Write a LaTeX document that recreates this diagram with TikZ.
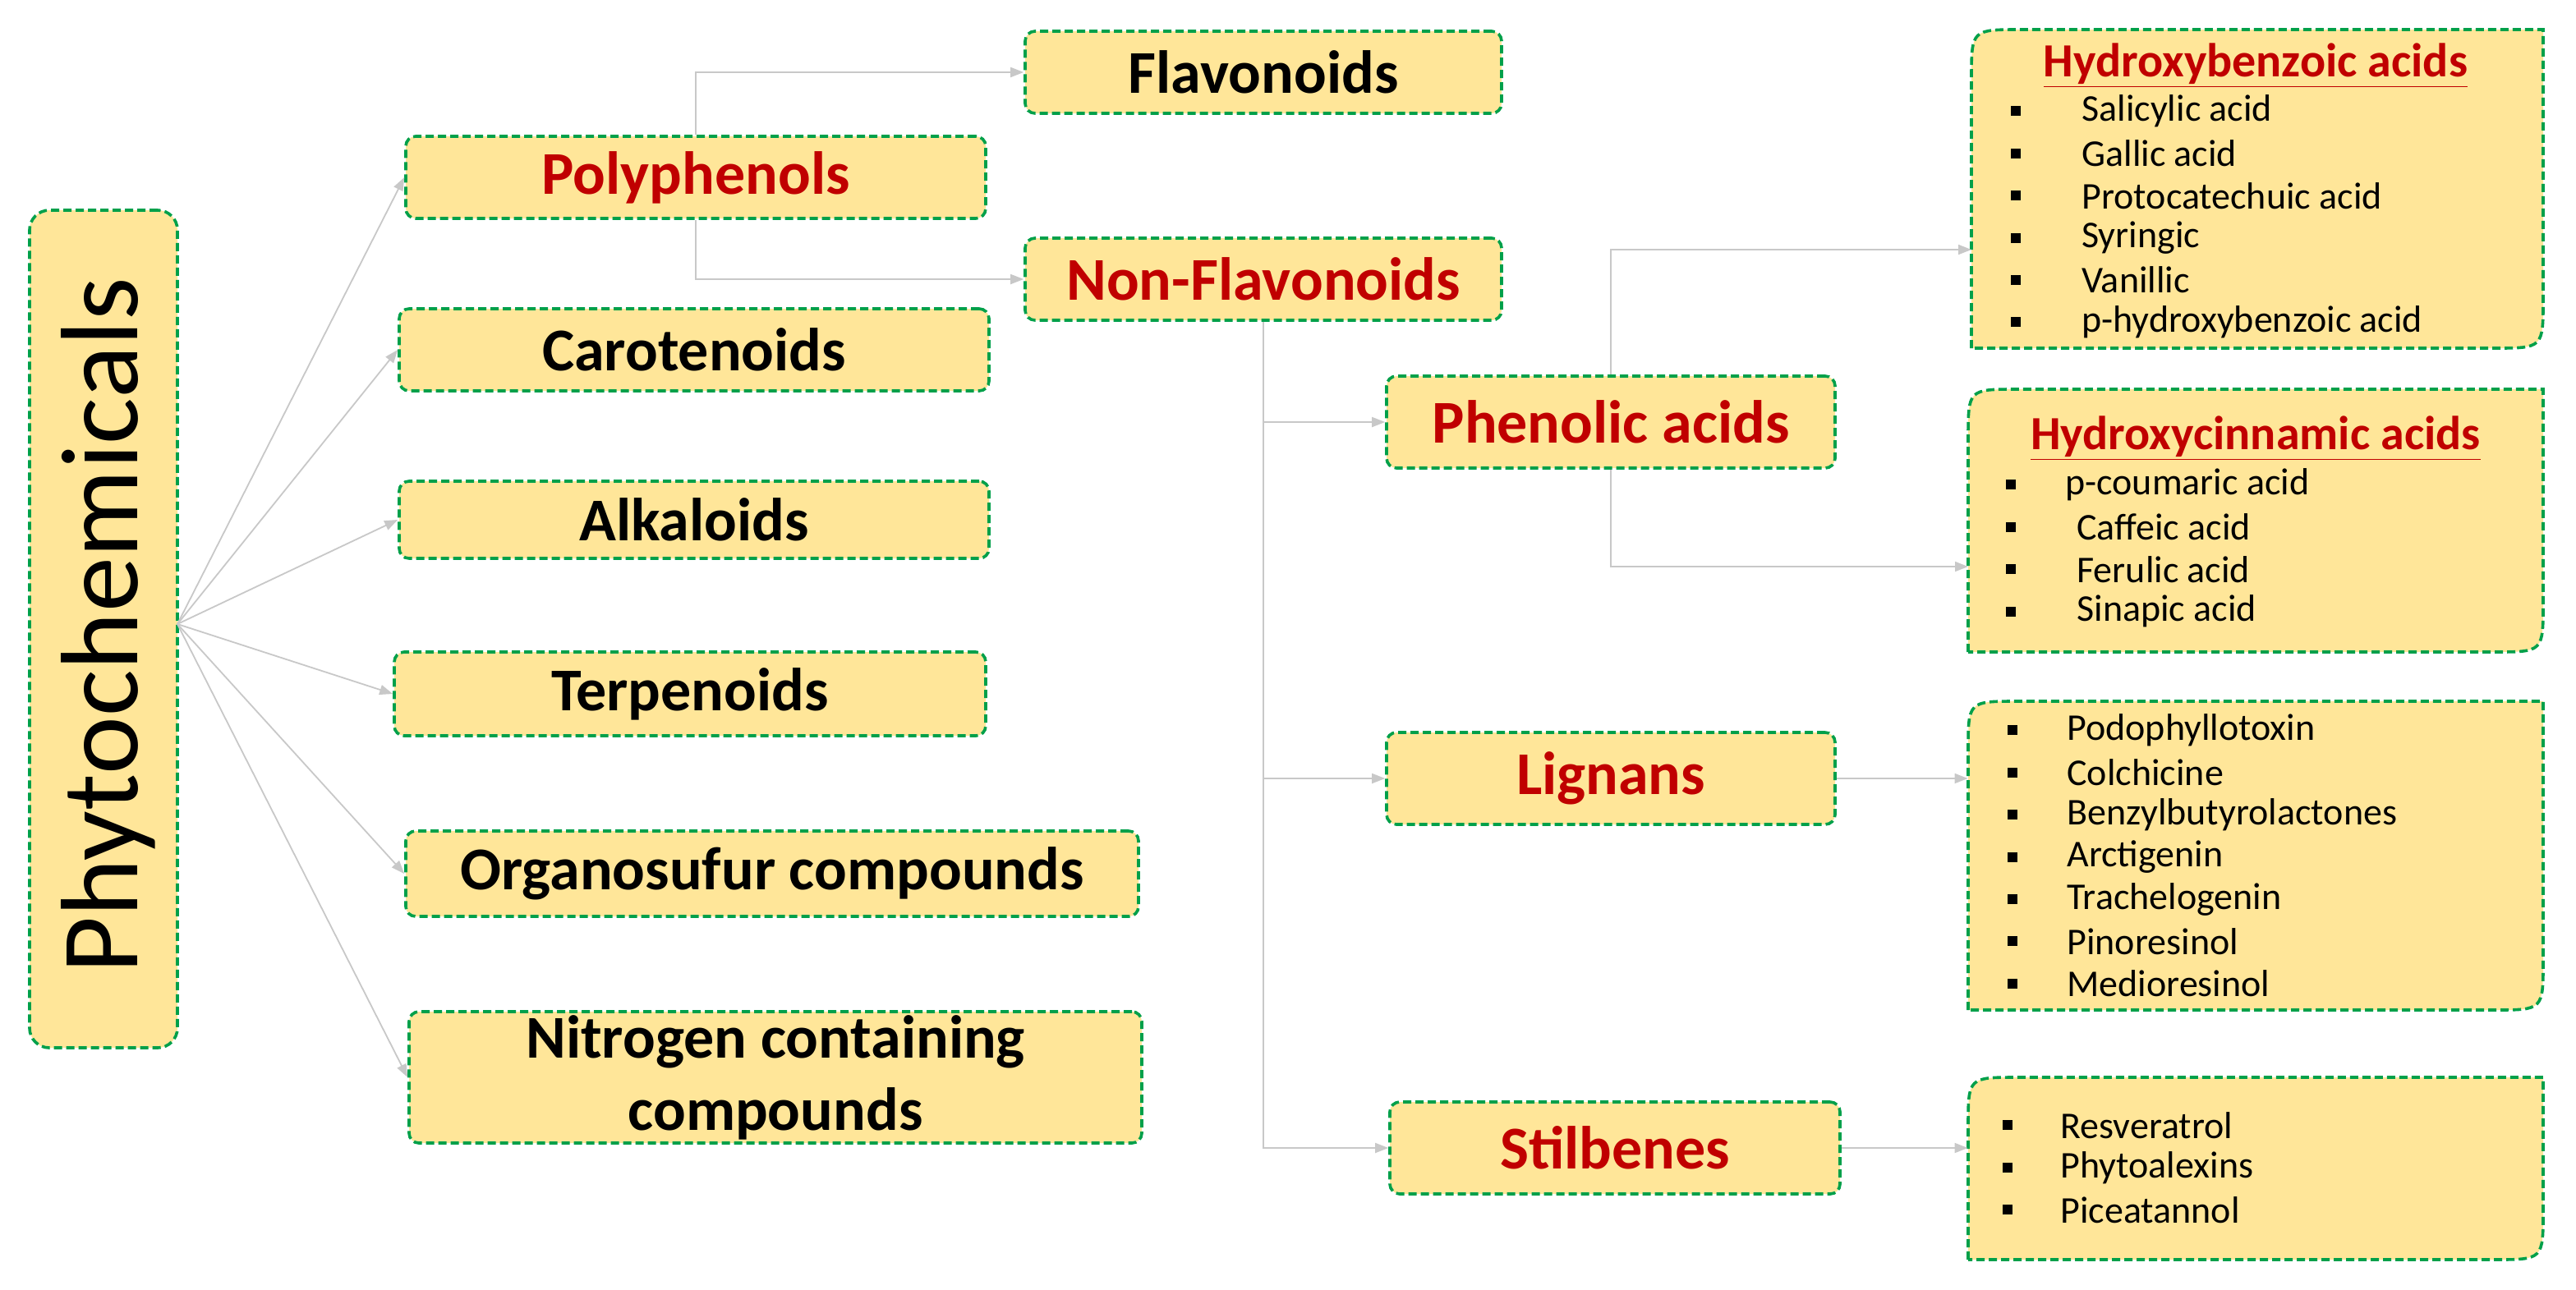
\documentclass[tikz,border=0pt]{standalone}
\usepackage{fontspec}
\setmainfont{Carlito}
\usetikzlibrary{arrows.meta,calc}
\definecolor{boxfill}{HTML}{FFE699}
\definecolor{boxline}{HTML}{00A04A}
\definecolor{redtxt}{HTML}{C00000}
\definecolor{conn}{HTML}{C8C8C8}
\tikzset{
  box/.style={draw=boxline,dash pattern=on 5pt off 2.5pt,line width=1.8pt,fill=boxfill,rounded corners=6pt,inner sep=0pt,align=center},
  bk/.style={font=\fontsize{37}{40}\selectfont\bfseries},
  rd/.style={font=\fontsize{37}{40}\selectfont\bfseries,text=redtxt},
  conn/.style={draw=conn,line width=0.9pt,-{Triangle[length=8pt,width=6pt]}},
  lbox/.style={draw=boxline,dash pattern=on 5pt off 2.5pt,line width=1.8pt,fill=boxfill},
  item/.style={anchor=west,font=\fontsize{23}{25}\selectfont,inner sep=0pt},
  bul/.style={fill=black,minimum size=6pt,inner sep=0pt},
  head/.style={font=\fontsize{29}{30}\selectfont\bfseries,text=redtxt,inner sep=0pt}
}
\newcommand{\listbox}[5]{% name x1 y1 x2 y2
  \node[minimum width={(#4-#2)*1pt},minimum height={(#5-#3)*1pt},inner sep=0pt] (#1) at ({(#2+#4)/2},{(#3+#5)/2}) {};
  \draw[lbox] (#2,#5) -- (#2,#3+30) .. controls (#2,#3) .. (#2+30,#3) -- (#4,#3) -- (#4,#5-30) .. controls (#4,#5) .. (#4-30,#5) -- cycle;
}
\begin{document}
\begin{tikzpicture}[x=1pt,y=-1pt]
\useasboundingbox (0,0) rectangle (1568,785);
% main
\node[box,minimum width=90pt,minimum height=510pt,rounded corners=12pt] (phy) at (63,383) {};
\node[rotate=90,font=\fontsize{67}{70}\selectfont] (phyt) at (66,381) {Phytochemicals};
\node[box,rd,minimum width=353pt,minimum height=50pt] (poly) at (423.5,108) {Polyphenols};
\node[box,bk,minimum width=290pt,minimum height=50pt] (flav) at (769,44) {Flavonoids};
\node[box,rd,minimum width=290pt,minimum height=50pt] (nonf) at (769,170) {Non-Flavonoids};
\node[box,bk,minimum width=359pt,minimum height=50pt] (caro) at (422.5,213) {Carotenoids};
\node[box,bk,minimum width=359pt,minimum height=47pt] (alka) at (422.5,316.5) {Alkaloids};
\node[box,bk,minimum width=360pt,minimum height=51pt] (terp) at (420,422.5) {Terpenoids};
\node[box,bk,minimum width=446pt,minimum height=52pt] (orga) at (470,532) {Organosufur compounds};
\node[box,bk,minimum width=446pt,minimum height=80pt,font=\fontsize{37}{44}\selectfont\bfseries] (nitr) at (472,656) {Nitrogen containing\\compounds};
\node[box,rd,minimum width=273pt,minimum height=56pt] (phen) at (980.5,257) {Phenolic acids};
\node[box,rd,minimum width=273pt,minimum height=56pt] (lign) at (980.5,474) {Lignans};
\node[box,rd,minimum width=274pt,minimum height=56pt] (stil) at (983,699) {Stilbenes};
% list boxes
\listbox{hb}{1200}{18}{1548}{212}
\listbox{hc}{1198}{237}{1548}{397}
\listbox{lg}{1198}{427}{1548}{615}
\listbox{st}{1198}{656}{1548}{767}
\node[head] (hbh) at (1373,40) {\underline{Hydroxybenzoic acids}};
\node[head] (hch) at (1373,267) {\underline{Hydroxycinnamic acids}};
\foreach \t [count=\i] in {Salicylic acid,Gallic acid,Protocatechuic acid,Syringic,Vanillic,p-hydroxybenzoic acid}{
  \node[bul] (hbb\i) at (1227,{42+25.7*\i}) {};
  \node[item] (hbt\i) at (1267,{42+25.7*\i}) {\t};}
\foreach \t/\x [count=\i] in {p-coumaric acid/1257,Caffeic acid/1264,Ferulic acid/1264,Sinapic acid/1264}{
  \node[bul] (hcb\i) at (1224,{269.5+25.7*\i}) {};
  \node[item] (hct\i) at (\x,{269.5+25.7*\i}) {\t};}
\foreach \t [count=\i] in {Podophyllotoxin,Colchicine,Benzylbutyrolactones,Arctigenin,Trachelogenin,Pinoresinol,Medioresinol}{
  \node[bul] (lgb\i) at (1225,{419+25.7*\i}) {};
  \node[item] (lgt\i) at (1258,{419+25.7*\i}) {\t};}
\foreach \t [count=\i] in {Resveratrol,Phytoalexins,Piceatannol}{
  \node[bul] (stb\i) at (1222,{659.5+25.7*\i}) {};
  \node[item] (stt\i) at (1254,{659.5+25.7*\i}) {\t};}
% connectors
\coordinate (o) at (108,380);
\foreach \n in {poly,caro,alka,terp,orga,nitr}{\draw[conn] (o) -- (\n.west);}
\draw[conn] (poly.north) |- (flav.west);
\draw[conn] (poly.south) |- (nonf.west);
\draw[conn] (nonf.south) |- (phen.west);
\draw[conn] (nonf.south) |- (lign.west);
\draw[conn] (nonf.south) |- (stil.west);
\draw[conn] (phen.north) |- (1200,152);
\draw[conn] (phen.south) |- (1198,345);
\draw[conn] (lign.east) -- (lign.east -| lg.west);
\draw[conn] (stil.east) -- (stil.east -| st.west);
\end{tikzpicture}
\end{document}
